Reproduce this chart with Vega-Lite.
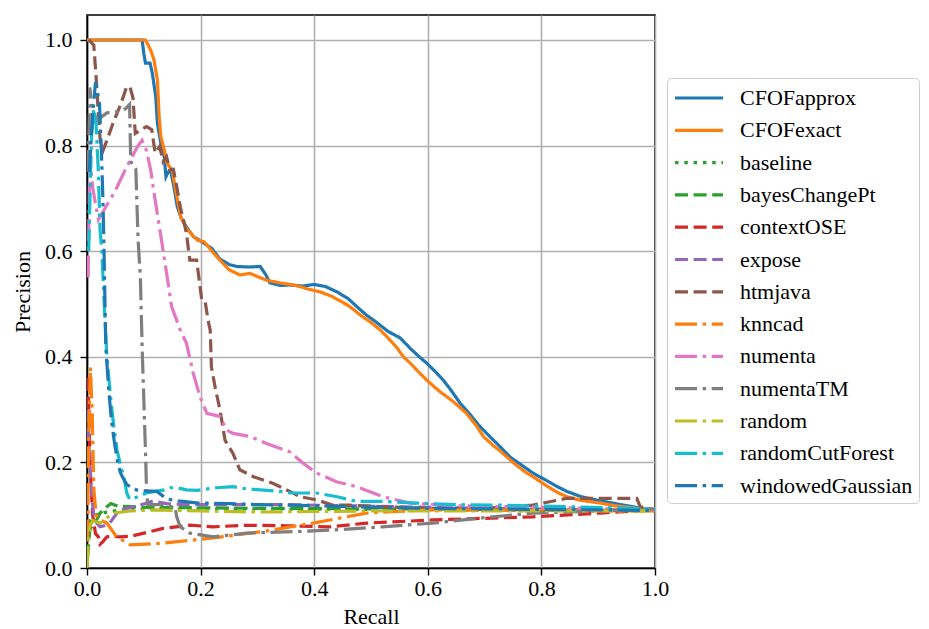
{
  "$schema": "https://vega.github.io/schema/vega-lite/v6.json",
  "autosize": {"type": "none"},
  "padding": {"left": 87, "top": 15, "right": 274, "bottom": 61},
  "width": 568,
  "height": 553,
  "background": "white",
  "config": {
    "font": "Liberation Serif",
    "style": {
      "guide-label": {"font": "Liberation Serif", "fill": "black"},
      "guide-title": {"font": "Liberation Serif", "fill": "black"}
    },
    "view": {"stroke": "black", "strokeWidth": 1.6},
    "axis": {
      "labelFont": "Liberation Serif", "titleFont": "Liberation Serif",
      "labelFontSize": 22, "titleFontSize": 22, "titleFontWeight": "normal",
      "labelColor": "black", "titleColor": "black",
      "labelFlush": false, "labelOverlap": false,
      "domainColor": "black", "domainWidth": 1.6,
      "tickColor": "black", "tickWidth": 1.4, "tickSize": 7,
      "gridColor": "#b0b0b0", "gridWidth": 1.6, "gridOpacity": 1
    },
    "legend": {
      "labelFont": "Liberation Serif", "labelFontSize": 22, "labelColor": "black"
    }
  },
  "data": {"values": [
    {"m":"CFOFapprox","r":0,"p":1.0},{"m":"CFOFapprox","r":0.097,"p":1.0},{"m":"CFOFapprox","r":0.1,"p":0.975},{"m":"CFOFapprox","r":0.103,"p":0.956},{"m":"CFOFapprox","r":0.111,"p":0.956},{"m":"CFOFapprox","r":0.115,"p":0.937},{"m":"CFOFapprox","r":0.121,"p":0.893},{"m":"CFOFapprox","r":0.124,"p":0.842},{"m":"CFOFapprox","r":0.13,"p":0.804},{"m":"CFOFapprox","r":0.136,"p":0.779},{"m":"CFOFapprox","r":0.139,"p":0.741},{"m":"CFOFapprox","r":0.143,"p":0.75},{"m":"CFOFapprox","r":0.147,"p":0.754},{"m":"CFOFapprox","r":0.153,"p":0.722},{"m":"CFOFapprox","r":0.159,"p":0.684},{"m":"CFOFapprox","r":0.165,"p":0.665},{"m":"CFOFapprox","r":0.171,"p":0.653},{"m":"CFOFapprox","r":0.18,"p":0.638},{"m":"CFOFapprox","r":0.188,"p":0.627},{"m":"CFOFapprox","r":0.199,"p":0.62},{"m":"CFOFapprox","r":0.206,"p":0.615},{"m":"CFOFapprox","r":0.22,"p":0.605},{"m":"CFOFapprox","r":0.234,"p":0.585},{"m":"CFOFapprox","r":0.25,"p":0.575},{"m":"CFOFapprox","r":0.264,"p":0.571},{"m":"CFOFapprox","r":0.285,"p":0.57},{"m":"CFOFapprox","r":0.305,"p":0.571},{"m":"CFOFapprox","r":0.315,"p":0.555},{"m":"CFOFapprox","r":0.322,"p":0.54},{"m":"CFOFapprox","r":0.34,"p":0.535},{"m":"CFOFapprox","r":0.357,"p":0.536},{"m":"CFOFapprox","r":0.38,"p":0.534},{"m":"CFOFapprox","r":0.4,"p":0.537},{"m":"CFOFapprox","r":0.42,"p":0.533},{"m":"CFOFapprox","r":0.44,"p":0.523},{"m":"CFOFapprox","r":0.46,"p":0.51},{"m":"CFOFapprox","r":0.475,"p":0.495},{"m":"CFOFapprox","r":0.492,"p":0.479},{"m":"CFOFapprox","r":0.51,"p":0.465},{"m":"CFOFapprox","r":0.53,"p":0.448},{"m":"CFOFapprox","r":0.551,"p":0.436},{"m":"CFOFapprox","r":0.57,"p":0.415},{"m":"CFOFapprox","r":0.585,"p":0.4},{"m":"CFOFapprox","r":0.598,"p":0.388},{"m":"CFOFapprox","r":0.615,"p":0.37},{"m":"CFOFapprox","r":0.627,"p":0.356},{"m":"CFOFapprox","r":0.64,"p":0.338},{"m":"CFOFapprox","r":0.657,"p":0.312},{"m":"CFOFapprox","r":0.675,"p":0.29},{"m":"CFOFapprox","r":0.69,"p":0.27},{"m":"CFOFapprox","r":0.71,"p":0.248},{"m":"CFOFapprox","r":0.727,"p":0.23},{"m":"CFOFapprox","r":0.745,"p":0.21},{"m":"CFOFapprox","r":0.765,"p":0.195},{"m":"CFOFapprox","r":0.785,"p":0.18},{"m":"CFOFapprox","r":0.81,"p":0.165},{"m":"CFOFapprox","r":0.83,"p":0.153},{"m":"CFOFapprox","r":0.845,"p":0.145},{"m":"CFOFapprox","r":0.87,"p":0.135},{"m":"CFOFapprox","r":0.891,"p":0.13},{"m":"CFOFapprox","r":0.92,"p":0.124},{"m":"CFOFapprox","r":0.94,"p":0.12},{"m":"CFOFapprox","r":0.961,"p":0.116},{"m":"CFOFapprox","r":0.98,"p":0.112},{"m":"CFOFapprox","r":1.0,"p":0.108},

    {"m":"CFOFexact","r":0,"p":1.0},{"m":"CFOFexact","r":0.103,"p":1.0},{"m":"CFOFexact","r":0.112,"p":0.981},{"m":"CFOFexact","r":0.118,"p":0.962},{"m":"CFOFexact","r":0.124,"p":0.924},{"m":"CFOFexact","r":0.127,"p":0.855},{"m":"CFOFexact","r":0.13,"p":0.817},{"m":"CFOFexact","r":0.136,"p":0.792},{"m":"CFOFexact","r":0.141,"p":0.766},{"m":"CFOFexact","r":0.15,"p":0.754},{"m":"CFOFexact","r":0.156,"p":0.716},{"m":"CFOFexact","r":0.165,"p":0.665},{"m":"CFOFexact","r":0.177,"p":0.64},{"m":"CFOFexact","r":0.194,"p":0.621},{"m":"CFOFexact","r":0.206,"p":0.618},{"m":"CFOFexact","r":0.22,"p":0.6},{"m":"CFOFexact","r":0.234,"p":0.583},{"m":"CFOFexact","r":0.25,"p":0.565},{"m":"CFOFexact","r":0.269,"p":0.555},{"m":"CFOFexact","r":0.287,"p":0.558},{"m":"CFOFexact","r":0.3,"p":0.552},{"m":"CFOFexact","r":0.316,"p":0.545},{"m":"CFOFexact","r":0.34,"p":0.54},{"m":"CFOFexact","r":0.363,"p":0.536},{"m":"CFOFexact","r":0.375,"p":0.533},{"m":"CFOFexact","r":0.39,"p":0.528},{"m":"CFOFexact","r":0.41,"p":0.523},{"m":"CFOFexact","r":0.43,"p":0.515},{"m":"CFOFexact","r":0.447,"p":0.505},{"m":"CFOFexact","r":0.463,"p":0.495},{"m":"CFOFexact","r":0.48,"p":0.48},{"m":"CFOFexact","r":0.5,"p":0.465},{"m":"CFOFexact","r":0.515,"p":0.452},{"m":"CFOFexact","r":0.528,"p":0.438},{"m":"CFOFexact","r":0.545,"p":0.418},{"m":"CFOFexact","r":0.557,"p":0.4},{"m":"CFOFexact","r":0.569,"p":0.388},{"m":"CFOFexact","r":0.585,"p":0.37},{"m":"CFOFexact","r":0.598,"p":0.356},{"m":"CFOFexact","r":0.62,"p":0.335},{"m":"CFOFexact","r":0.645,"p":0.315},{"m":"CFOFexact","r":0.668,"p":0.293},{"m":"CFOFexact","r":0.685,"p":0.27},{"m":"CFOFexact","r":0.698,"p":0.249},{"m":"CFOFexact","r":0.715,"p":0.232},{"m":"CFOFexact","r":0.727,"p":0.222},{"m":"CFOFexact","r":0.75,"p":0.2},{"m":"CFOFexact","r":0.77,"p":0.183},{"m":"CFOFexact","r":0.785,"p":0.173},{"m":"CFOFexact","r":0.81,"p":0.155},{"m":"CFOFexact","r":0.83,"p":0.142},{"m":"CFOFexact","r":0.845,"p":0.135},{"m":"CFOFexact","r":0.87,"p":0.128},{"m":"CFOFexact","r":0.903,"p":0.123},{"m":"CFOFexact","r":0.93,"p":0.118},{"m":"CFOFexact","r":0.96,"p":0.114},{"m":"CFOFexact","r":1.0,"p":0.11},

    {"m":"baseline","r":0.001,"p":0.05},{"m":"baseline","r":0.006,"p":0.09},{"m":"baseline","r":0.015,"p":0.1},{"m":"baseline","r":0.03,"p":0.105},{"m":"baseline","r":0.06,"p":0.11},{"m":"baseline","r":0.1,"p":0.112},{"m":"baseline","r":0.3,"p":0.112},{"m":"baseline","r":0.5,"p":0.111},{"m":"baseline","r":0.7,"p":0.11},{"m":"baseline","r":1.0,"p":0.109},

    {"m":"bayesChangePt","r":0.001,"p":0.02},{"m":"bayesChangePt","r":0.005,"p":0.072},{"m":"bayesChangePt","r":0.012,"p":0.085},{"m":"bayesChangePt","r":0.017,"p":0.091},{"m":"bayesChangePt","r":0.023,"p":0.104},{"m":"bayesChangePt","r":0.034,"p":0.115},{"m":"bayesChangePt","r":0.042,"p":0.122},{"m":"bayesChangePt","r":0.055,"p":0.117},{"m":"bayesChangePt","r":0.1,"p":0.115},{"m":"bayesChangePt","r":0.2,"p":0.114},{"m":"bayesChangePt","r":0.3,"p":0.113},{"m":"bayesChangePt","r":0.5,"p":0.112},{"m":"bayesChangePt","r":0.7,"p":0.111},{"m":"bayesChangePt","r":1.0,"p":0.109},

    {"m":"contextOSE","r":0.001,"p":0.36},{"m":"contextOSE","r":0.003,"p":0.3},{"m":"contextOSE","r":0.006,"p":0.18},{"m":"contextOSE","r":0.01,"p":0.1},{"m":"contextOSE","r":0.015,"p":0.065},{"m":"contextOSE","r":0.02,"p":0.059},{"m":"contextOSE","r":0.023,"p":0.045},{"m":"contextOSE","r":0.028,"p":0.05},{"m":"contextOSE","r":0.035,"p":0.059},{"m":"contextOSE","r":0.045,"p":0.06},{"m":"contextOSE","r":0.058,"p":0.059},{"m":"contextOSE","r":0.076,"p":0.06},{"m":"contextOSE","r":0.1,"p":0.066},{"m":"contextOSE","r":0.134,"p":0.075},{"m":"contextOSE","r":0.181,"p":0.081},{"m":"contextOSE","r":0.222,"p":0.078},{"m":"contextOSE","r":0.281,"p":0.081},{"m":"contextOSE","r":0.35,"p":0.08},{"m":"contextOSE","r":0.428,"p":0.078},{"m":"contextOSE","r":0.492,"p":0.085},{"m":"contextOSE","r":0.609,"p":0.091},{"m":"contextOSE","r":0.785,"p":0.097},{"m":"contextOSE","r":0.903,"p":0.104},{"m":"contextOSE","r":1.0,"p":0.11},

    {"m":"expose","r":0.001,"p":0.3},{"m":"expose","r":0.004,"p":0.22},{"m":"expose","r":0.008,"p":0.14},{"m":"expose","r":0.012,"p":0.1},{"m":"expose","r":0.017,"p":0.085},{"m":"expose","r":0.023,"p":0.078},{"m":"expose","r":0.03,"p":0.08},{"m":"expose","r":0.04,"p":0.085},{"m":"expose","r":0.05,"p":0.1},{"m":"expose","r":0.058,"p":0.11},{"m":"expose","r":0.08,"p":0.115},{"m":"expose","r":0.105,"p":0.123},{"m":"expose","r":0.116,"p":0.127},{"m":"expose","r":0.14,"p":0.122},{"m":"expose","r":0.17,"p":0.12},{"m":"expose","r":0.25,"p":0.12},{"m":"expose","r":0.35,"p":0.12},{"m":"expose","r":0.45,"p":0.118},{"m":"expose","r":0.55,"p":0.116},{"m":"expose","r":0.7,"p":0.113},{"m":"expose","r":0.85,"p":0.111},{"m":"expose","r":1.0,"p":0.109},

    {"m":"htmjava","r":0.003,"p":1.0},{"m":"htmjava","r":0.012,"p":0.99},{"m":"htmjava","r":0.016,"p":0.93},{"m":"htmjava","r":0.02,"p":0.86},{"m":"htmjava","r":0.024,"p":0.8},{"m":"htmjava","r":0.028,"p":0.79},{"m":"htmjava","r":0.035,"p":0.81},{"m":"htmjava","r":0.045,"p":0.84},{"m":"htmjava","r":0.06,"p":0.88},{"m":"htmjava","r":0.07,"p":0.912},{"m":"htmjava","r":0.076,"p":0.91},{"m":"htmjava","r":0.081,"p":0.89},{"m":"htmjava","r":0.085,"p":0.823},{"m":"htmjava","r":0.095,"p":0.83},{"m":"htmjava","r":0.105,"p":0.836},{"m":"htmjava","r":0.114,"p":0.83},{"m":"htmjava","r":0.12,"p":0.786},{"m":"htmjava","r":0.128,"p":0.798},{"m":"htmjava","r":0.134,"p":0.77},{"m":"htmjava","r":0.14,"p":0.779},{"m":"htmjava","r":0.146,"p":0.754},{"m":"htmjava","r":0.152,"p":0.755},{"m":"htmjava","r":0.158,"p":0.722},{"m":"htmjava","r":0.165,"p":0.68},{"m":"htmjava","r":0.17,"p":0.659},{"m":"htmjava","r":0.175,"p":0.634},{"m":"htmjava","r":0.181,"p":0.583},{"m":"htmjava","r":0.193,"p":0.583},{"m":"htmjava","r":0.202,"p":0.508},{"m":"htmjava","r":0.208,"p":0.505},{"m":"htmjava","r":0.213,"p":0.47},{"m":"htmjava","r":0.217,"p":0.45},{"m":"htmjava","r":0.219,"p":0.381},{"m":"htmjava","r":0.226,"p":0.34},{"m":"htmjava","r":0.234,"p":0.3},{"m":"htmjava","r":0.243,"p":0.242},{"m":"htmjava","r":0.257,"p":0.217},{"m":"htmjava","r":0.269,"p":0.186},{"m":"htmjava","r":0.293,"p":0.173},{"m":"htmjava","r":0.328,"p":0.16},{"m":"htmjava","r":0.357,"p":0.145},{"m":"htmjava","r":0.375,"p":0.135},{"m":"htmjava","r":0.404,"p":0.129},{"m":"htmjava","r":0.433,"p":0.119},{"m":"htmjava","r":0.463,"p":0.119},{"m":"htmjava","r":0.521,"p":0.116},{"m":"htmjava","r":0.6,"p":0.113},{"m":"htmjava","r":0.7,"p":0.113},{"m":"htmjava","r":0.785,"p":0.119},{"m":"htmjava","r":0.845,"p":0.132},{"m":"htmjava","r":0.903,"p":0.132},{"m":"htmjava","r":0.968,"p":0.132},{"m":"htmjava","r":0.974,"p":0.116},{"m":"htmjava","r":1.0,"p":0.11},

    {"m":"knncad","r":0.001,"p":0.05},{"m":"knncad","r":0.003,"p":0.25},{"m":"knncad","r":0.006,"p":0.38},{"m":"knncad","r":0.009,"p":0.3},{"m":"knncad","r":0.012,"p":0.15},{"m":"knncad","r":0.016,"p":0.1},{"m":"knncad","r":0.025,"p":0.09},{"m":"knncad","r":0.035,"p":0.085},{"m":"knncad","r":0.052,"p":0.059},{"m":"knncad","r":0.076,"p":0.044},{"m":"knncad","r":0.134,"p":0.047},{"m":"knncad","r":0.222,"p":0.057},{"m":"knncad","r":0.31,"p":0.069},{"m":"knncad","r":0.398,"p":0.085},{"m":"knncad","r":0.492,"p":0.104},{"m":"knncad","r":0.598,"p":0.11},{"m":"knncad","r":0.8,"p":0.109},{"m":"knncad","r":1.0,"p":0.108},

    {"m":"numenta","r":0.002,"p":0.55},{"m":"numenta","r":0.005,"p":0.78},{"m":"numenta","r":0.01,"p":0.72},{"m":"numenta","r":0.02,"p":0.66},{"m":"numenta","r":0.03,"p":0.678},{"m":"numenta","r":0.05,"p":0.715},{"m":"numenta","r":0.07,"p":0.76},{"m":"numenta","r":0.09,"p":0.8},{"m":"numenta","r":0.097,"p":0.81},{"m":"numenta","r":0.105,"p":0.79},{"m":"numenta","r":0.112,"p":0.754},{"m":"numenta","r":0.121,"p":0.69},{"m":"numenta","r":0.132,"p":0.615},{"m":"numenta","r":0.141,"p":0.552},{"m":"numenta","r":0.149,"p":0.495},{"m":"numenta","r":0.164,"p":0.451},{"m":"numenta","r":0.175,"p":0.426},{"m":"numenta","r":0.187,"p":0.369},{"m":"numenta","r":0.199,"p":0.324},{"m":"numenta","r":0.211,"p":0.293},{"m":"numenta","r":0.222,"p":0.29},{"m":"numenta","r":0.234,"p":0.287},{"m":"numenta","r":0.246,"p":0.261},{"m":"numenta","r":0.257,"p":0.255},{"m":"numenta","r":0.287,"p":0.249},{"m":"numenta","r":0.316,"p":0.236},{"m":"numenta","r":0.357,"p":0.22},{"m":"numenta","r":0.38,"p":0.199},{"m":"numenta","r":0.404,"p":0.18},{"m":"numenta","r":0.44,"p":0.163},{"m":"numenta","r":0.475,"p":0.154},{"m":"numenta","r":0.521,"p":0.135},{"m":"numenta","r":0.569,"p":0.123},{"m":"numenta","r":0.65,"p":0.118},{"m":"numenta","r":0.8,"p":0.115},{"m":"numenta","r":1.0,"p":0.11},

    {"m":"numentaTM","r":0.002,"p":0.75},{"m":"numentaTM","r":0.005,"p":0.91},{"m":"numentaTM","r":0.01,"p":0.86},{"m":"numentaTM","r":0.02,"p":0.85},{"m":"numentaTM","r":0.035,"p":0.862},{"m":"numentaTM","r":0.06,"p":0.865},{"m":"numentaTM","r":0.068,"p":0.87},{"m":"numentaTM","r":0.075,"p":0.878},{"m":"numentaTM","r":0.077,"p":0.77},{"m":"numentaTM","r":0.086,"p":0.755},{"m":"numentaTM","r":0.09,"p":0.62},{"m":"numentaTM","r":0.094,"p":0.55},{"m":"numentaTM","r":0.097,"p":0.42},{"m":"numentaTM","r":0.1,"p":0.32},{"m":"numentaTM","r":0.103,"p":0.22},{"m":"numentaTM","r":0.105,"p":0.14},{"m":"numentaTM","r":0.107,"p":0.12},{"m":"numentaTM","r":0.13,"p":0.12},{"m":"numentaTM","r":0.155,"p":0.115},{"m":"numentaTM","r":0.158,"p":0.097},{"m":"numentaTM","r":0.164,"p":0.078},{"m":"numentaTM","r":0.181,"p":0.066},{"m":"numentaTM","r":0.222,"p":0.059},{"m":"numentaTM","r":0.281,"p":0.066},{"m":"numentaTM","r":0.369,"p":0.069},{"m":"numentaTM","r":0.45,"p":0.073},{"m":"numentaTM","r":0.52,"p":0.078},{"m":"numentaTM","r":0.609,"p":0.085},{"m":"numentaTM","r":0.697,"p":0.095},{"m":"numentaTM","r":0.785,"p":0.104},{"m":"numentaTM","r":0.9,"p":0.108},{"m":"numentaTM","r":1.0,"p":0.112},

    {"m":"random","r":0.0,"p":0.0},{"m":"random","r":0.002,"p":0.05},{"m":"random","r":0.005,"p":0.078},{"m":"random","r":0.01,"p":0.09},{"m":"random","r":0.023,"p":0.085},{"m":"random","r":0.035,"p":0.095},{"m":"random","r":0.046,"p":0.104},{"m":"random","r":0.076,"p":0.108},{"m":"random","r":0.12,"p":0.11},{"m":"random","r":0.2,"p":0.108},{"m":"random","r":0.3,"p":0.106},{"m":"random","r":0.4,"p":0.107},{"m":"random","r":0.5,"p":0.108},{"m":"random","r":0.7,"p":0.108},{"m":"random","r":1.0,"p":0.108},

    {"m":"randomCutForest","r":0.003,"p":0.6},{"m":"randomCutForest","r":0.008,"p":0.82},{"m":"randomCutForest","r":0.012,"p":0.87},{"m":"randomCutForest","r":0.016,"p":0.84},{"m":"randomCutForest","r":0.02,"p":0.75},{"m":"randomCutForest","r":0.023,"p":0.64},{"m":"randomCutForest","r":0.026,"p":0.602},{"m":"randomCutForest","r":0.03,"p":0.508},{"m":"randomCutForest","r":0.035,"p":0.4},{"m":"randomCutForest","r":0.042,"p":0.318},{"m":"randomCutForest","r":0.047,"p":0.27},{"m":"randomCutForest","r":0.053,"p":0.223},{"m":"randomCutForest","r":0.06,"p":0.19},{"m":"randomCutForest","r":0.065,"p":0.173},{"m":"randomCutForest","r":0.07,"p":0.142},{"m":"randomCutForest","r":0.075,"p":0.13},{"m":"randomCutForest","r":0.083,"p":0.132},{"m":"randomCutForest","r":0.095,"p":0.138},{"m":"randomCutForest","r":0.105,"p":0.142},{"m":"randomCutForest","r":0.12,"p":0.145},{"m":"randomCutForest","r":0.136,"p":0.148},{"m":"randomCutForest","r":0.146,"p":0.152},{"m":"randomCutForest","r":0.158,"p":0.152},{"m":"randomCutForest","r":0.175,"p":0.148},{"m":"randomCutForest","r":0.194,"p":0.147},{"m":"randomCutForest","r":0.228,"p":0.152},{"m":"randomCutForest","r":0.257,"p":0.154},{"m":"randomCutForest","r":0.28,"p":0.15},{"m":"randomCutForest","r":0.305,"p":0.148},{"m":"randomCutForest","r":0.34,"p":0.145},{"m":"randomCutForest","r":0.357,"p":0.142},{"m":"randomCutForest","r":0.404,"p":0.142},{"m":"randomCutForest","r":0.44,"p":0.135},{"m":"randomCutForest","r":0.475,"p":0.126},{"m":"randomCutForest","r":0.521,"p":0.126},{"m":"randomCutForest","r":0.58,"p":0.123},{"m":"randomCutForest","r":0.65,"p":0.12},{"m":"randomCutForest","r":0.727,"p":0.119},{"m":"randomCutForest","r":0.85,"p":0.116},{"m":"randomCutForest","r":1.0,"p":0.112},

    {"m":"windowedGaussian","r":0.004,"p":0.75},{"m":"windowedGaussian","r":0.01,"p":0.86},{"m":"windowedGaussian","r":0.015,"p":0.92},{"m":"windowedGaussian","r":0.022,"p":0.88},{"m":"windowedGaussian","r":0.025,"p":0.8},{"m":"windowedGaussian","r":0.028,"p":0.7},{"m":"windowedGaussian","r":0.03,"p":0.6},{"m":"windowedGaussian","r":0.033,"p":0.42},{"m":"windowedGaussian","r":0.038,"p":0.34},{"m":"windowedGaussian","r":0.043,"p":0.28},{"m":"windowedGaussian","r":0.048,"p":0.24},{"m":"windowedGaussian","r":0.054,"p":0.2},{"m":"windowedGaussian","r":0.059,"p":0.18},{"m":"windowedGaussian","r":0.065,"p":0.167},{"m":"windowedGaussian","r":0.07,"p":0.158},{"m":"windowedGaussian","r":0.087,"p":0.148},{"m":"windowedGaussian","r":0.1,"p":0.146},{"m":"windowedGaussian","r":0.123,"p":0.145},{"m":"windowedGaussian","r":0.14,"p":0.131},{"m":"windowedGaussian","r":0.16,"p":0.127},{"m":"windowedGaussian","r":0.197,"p":0.123},{"m":"windowedGaussian","r":0.25,"p":0.122},{"m":"windowedGaussian","r":0.3,"p":0.12},{"m":"windowedGaussian","r":0.4,"p":0.118},{"m":"windowedGaussian","r":0.5,"p":0.115},{"m":"windowedGaussian","r":0.6,"p":0.113},{"m":"windowedGaussian","r":0.8,"p":0.111},{"m":"windowedGaussian","r":1.0,"p":0.109}
  ]},
  "mark": {"type": "line", "strokeWidth": 3.2, "clip": true},
  "encoding": {
    "x": {"field": "r", "type": "quantitative", "title": "Recall",
      "scale": {"domain": [0, 1], "nice": false},
      "axis": {"values": [0, 0.2, 0.4, 0.6, 0.8, 1.0], "format": ".1f", "labelPadding": 3, "titlePadding": 7}},
    "y": {"field": "p", "type": "quantitative", "title": "Precision",
      "scale": {"domain": [0, 1.0473], "nice": false},
      "axis": {"values": [0, 0.2, 0.4, 0.6, 0.8, 1.0], "format": ".1f", "labelPadding": 8, "titlePadding": 10}},
    "color": {"field": "m", "type": "nominal", "title": null,
      "scale": {
        "domain": ["CFOFapprox","CFOFexact","baseline","bayesChangePt","contextOSE","expose","htmjava","knncad","numenta","numentaTM","random","randomCutForest","windowedGaussian"],
        "range": ["#1f77b4","#ff7f0e","#2ca02c","#2ca02c","#d62728","#9467bd","#8c564b","#ff7f0e","#e377c2","#7f7f7f","#bcbd22","#17becf","#1f77b4"]
      },
      "legend": {
        "orient": "none", "legendX": 580, "legendY": 63,
        "symbolType": "M-1,0H3", "symbolSize": 576, "symbolStrokeWidth": 3.2,
        "symbolFillColor": "transparent",
        "labelFont": "Liberation Serif", "labelFontSize": 22, "labelColor": "black",
        "labelOffset": 39, "rowPadding": 7.3, "padding": 6,
        "strokeColor": "#cccccc", "fillColor": "white", "cornerRadius": 4,
        "labelLimit": 400
      }
    },
    "strokeDash": {"field": "m", "type": "nominal", "title": null,
      "scale": {
        "domain": ["CFOFapprox","CFOFexact","baseline","bayesChangePt","contextOSE","expose","htmjava","knncad","numenta","numentaTM","random","randomCutForest","windowedGaussian"],
        "range": [[1,0],[1,0],[3.5,5.8],[13,5.6],[13,5.6],[13,5.6],[13,5.6],[22,5.6,3.5,5.6],[22,5.6,3.5,5.6],[22,5.6,3.5,5.6],[22,5.6,3.5,5.6],[22,5.6,3.5,5.6],[22,5.6,3.5,5.6]]
      },
      "legend": {
        "labelFont": "Liberation Serif", "labelFontSize": 22
      }
    }
  }
}
